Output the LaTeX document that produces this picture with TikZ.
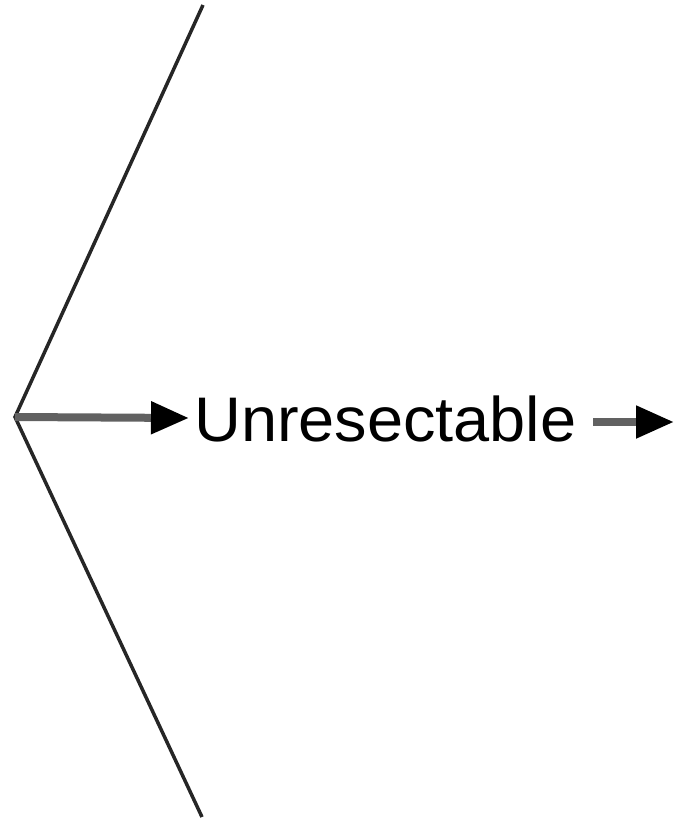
\documentclass[tikz,border=0pt]{standalone}
\usepackage{fontspec}
\setmainfont{Liberation Sans}
\usetikzlibrary{arrows.meta}
\begin{document}
\begin{tikzpicture}[x=1pt,y=-1pt,
  chev/.style={line width=3.5pt,draw=black!85},
  arr/.style={line width=8pt,draw=black!62,-{Triangle[length=38pt,width=31pt,color=black]}},
  lab/.style={font=\fontsize{63}{63}\selectfont,inner sep=0pt,anchor=base west,xscale=1.03}]
\useasboundingbox (0,0) rectangle (674,819);
\coordinate (top) at (203,5);
\coordinate (v) at (15,417);
\coordinate (bot) at (202,817);
\draw[chev] (top) -- (v) -- (bot);
\node[lab] (t) at (194,441) {Unresectable};
\coordinate (e1) at (189,418);
\draw[arr] (v) -- (e1);
\coordinate (s2) at (593,422);
\coordinate (e2) at (674,422);
\draw[arr] (s2) -- (e2);
\end{tikzpicture}
\end{document}
